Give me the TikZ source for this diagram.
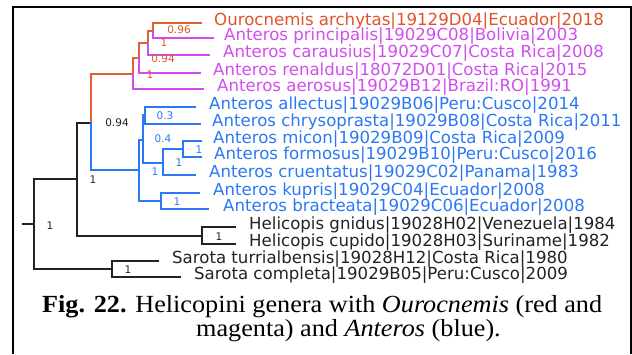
\documentclass[tikz,border=0pt]{standalone}
\usepackage{graphicx}
\usepackage{fontspec}
\setmainfont{Liberation Serif}
\newfontfamily\leaffont{DejaVu Sans}
\definecolor{ocl}{HTML}{E0602E}
\definecolor{oct}{HTML}{E0532A}
\definecolor{mag}{HTML}{D24CF0}
\definecolor{blu}{HTML}{2A78F5}
\definecolor{blk}{HTML}{222222}
\tikzset{
  br/.style={line width=1.2pt, line cap=rect},
  leaf/.style={anchor=mid west, inner sep=0pt, font=\leaffont\fontsize{16.6}{18}\selectfont},
  sup/.style={inner sep=0pt, font=\leaffont\fontsize{10.5}{12}\selectfont},
  captxt/.style={anchor=base west, inner sep=0pt, font=\fontsize{26.2}{28}\selectfont, text=black}
}
\begin{document}
\begin{tikzpicture}[x=1pt,y=-1pt]
\useasboundingbox (0,0) rectangle (632,354);
\draw[line width=2pt] (13,354) -- (13,7) -- (631,7) -- (631,354);

% internal nodes
\coordinate (r) at (23,224);
\coordinate (n1) at (34,224);
\coordinate (n2) at (77,179);
\coordinate (nS) at (112,269);
\coordinate (n3) at (91,123);
\coordinate (nH) at (202,236);
\coordinate (nO1) at (133,74);
\coordinate (nO2) at (139,58);
\coordinate (nO3) at (148,43);
\coordinate (nO4) at (153,31);
\coordinate (nA) at (139,170);
\coordinate (nB) at (143,140);
\coordinate (nAl) at (145,115);
\coordinate (nC) at (163,163);
\coordinate (nD) at (183,149);
\coordinate (nK) at (161,201);

% leaf line ends
\coordinate (e1) at (201,23);
\coordinate (e2) at (213,38);
\coordinate (e3) at (209,55);
\coordinate (e4) at (200,73);
\coordinate (e5) at (203,89);
\coordinate (e6) at (195,107);
\coordinate (e7) at (200,124);
\coordinate (e8) at (201,141);
\coordinate (e9) at (201,157);
\coordinate (e10) at (195,175);
\coordinate (e11) at (199,193);
\coordinate (e12) at (208,209);
\coordinate (e13) at (235,227);
\coordinate (e14) at (235,244);
\coordinate (e15) at (158,261);
\coordinate (e16) at (180,277);

% leaf labels
\node[leaf,text=oct] (t1) at (214,23) {Ourocnemis archytas|19129D04|Ecuador|2018};
\node[leaf,text=mag] (t2) at (224,38) {Anteros principalis|19029C08|Bolivia|2003};
\node[leaf,text=mag] (t3) at (223,55) {Anteros carausius|19029C07|Costa Rica|2008};
\node[leaf,text=mag] (t4) at (213,73) {Anteros renaldus|18072D01|Costa Rica|2015};
\node[leaf,text=mag] (t5) at (217,89) {Anteros aerosus|19029B12|Brazil:RO|1991};
\node[leaf,text=blu] (t6) at (209,107) {Anteros allectus|19029B06|Peru:Cusco|2014};
\node[leaf,text=blu] (t7) at (212,124) {Anteros chrysoprasta|19029B08|Costa Rica|2011};
\node[leaf,text=blu] (t8) at (213,141) {Anteros micon|19029B09|Costa Rica|2009};
\node[leaf,text=blu] (t9) at (214,157) {Anteros formosus|19029B10|Peru:Cusco|2016};
\node[leaf,text=blu] (t10) at (209,175) {Anteros cruentatus|19029C02|Panama|1983};
\node[leaf,text=blu] (t11) at (213,193) {Anteros kupris|19029C04|Ecuador|2008};
\node[leaf,text=blu] (t12) at (223,209) {Anteros bracteata|19029C06|Ecuador|2008};
\node[leaf,text=blk] (t13) at (249,227) {Helicopis gnidus|19028H02|Venezuela|1984};
\node[leaf,text=blk] (t14) at (249,244) {Helicopis cupido|19028H03|Suriname|1982};
\node[leaf,text=blk] (t15) at (172,261) {Sarota turrialbensis|19028H12|Costa Rica|1980};
\node[leaf,text=blk] (t16) at (194,277) {Sarota completa|19029B05|Peru:Cusco|2009};

% black branches
\draw[br,blk] (r) -- (n1);
\draw[br,blk] (n1 |- n2) -- (n1 |- nS);
\draw[br,blk] (n1 |- n2) -- (n2);
\draw[br,blk] (n1 |- nS) -- (nS);
\draw[br,blk] (n2 |- n3) -- (n2 |- nH);
\draw[br,blk] (n2 |- n3) -- (n3);
\draw[br,blk] (n2 |- nH) -- (nH);
\draw[br,blk] (nH |- e13) -- (nH |- e14);
\draw[br,blk] (nH |- e13) -- (e13);
\draw[br,blk] (nH |- e14) -- (e14);
\draw[br,blk] (nS |- e15) -- (nS |- e16);
\draw[br,blk] (nS |- e15) -- (e15);
\draw[br,blk] (nS |- e16) -- (e16);

% orange / magenta clade
\draw[br,ocl] (n3 |- nO1) -- (n3);
\draw[br,ocl] (n3 |- nO1) -- (nO1);
\draw[br,ocl] (nO1 |- nO2) -- (nO1);
\draw[br,mag] (nO1) -- (nO1 |- e5) -- (e5);
\draw[br,ocl] (nO1 |- nO2) -- (nO2);
\draw[br,ocl] (nO2 |- nO3) -- (nO2);
\draw[br,mag] (nO2) -- (nO2 |- e4) -- (e4);
\draw[br,ocl] (nO2 |- nO3) -- (nO3);
\draw[br,ocl] (nO3 |- nO4) -- (nO3);
\draw[br,mag] (nO3) -- (nO3 |- e3) -- (e3);
\draw[br,ocl] (nO3 |- nO4) -- (nO4);
\draw[br,ocl] (nO4 |- e1) -- (nO4);
\draw[br,ocl] (nO4 |- e1) -- (e1);
\draw[br,mag] (nO4) -- (nO4 |- e2) -- (e2);

% blue clade
\draw[br,blu] (n3) -- (n3 |- nA) -- (nA);
\draw[br,blu] (nA |- nB) -- (nA |- nK);
\draw[br,blu] (nA |- nB) -- (nB);
\draw[br,blu] (nA |- nK) -- (nK);
\draw[br,blu] (nB |- nAl) -- (nB |- nC);
\draw[br,blu] (nB |- nAl) -- (nAl);
\draw[br,blu] (nB |- nC) -- (nC);
\draw[br,blu] (nAl |- e6) -- (nAl |- e7);
\draw[br,blu] (nAl |- e6) -- (e6);
\draw[br,blu] (nAl |- e7) -- (e7);
\draw[br,blu] (nC |- nD) -- (nC |- e10);
\draw[br,blu] (nC |- nD) -- (nD);
\draw[br,blu] (nC |- e10) -- (e10);
\draw[br,blu] (nD |- e8) -- (nD |- e9);
\draw[br,blu] (nD |- e8) -- (e8);
\draw[br,blu] (nD |- e9) -- (e9);
\draw[br,blu] (nK |- e11) -- (nK |- e12);
\draw[br,blu] (nK |- e11) -- (e11);
\draw[br,blu] (nK |- e12) -- (e12);

% support values
\node[sup,text=oct] (s1) at (179,30) {0.96};
\node[sup,text=oct] (s2) at (164,43) {1};
\node[sup,text=oct] (s3) at (163,59) {0.94};
\node[sup,text=oct] (s4) at (150,75) {1};
\node[sup,text=blk] (s5) at (117,123) {0.94};
\node[sup,text=blu] (s6) at (165,116) {0.3};
\node[sup,text=blu] (s7) at (163,139) {0.4};
\node[sup,text=blu] (s8) at (199,150) {1};
\node[sup,text=blu] (s9) at (179,163) {1};
\node[sup,text=blu] (s10) at (155,172) {1};
\node[sup,text=blu] (s11) at (177,202) {1};
\node[sup,text=blk] (s12) at (93,180) {1};
\node[sup,text=blk] (s13) at (219,237) {1};
\node[sup,text=blk] (s14) at (50,226) {1};
\node[sup,text=blk] (s15) at (128,270) {1};

% caption
\node[captxt] (c1) at (42,312) {\scalebox{1}[0.94]{\textbf{Fig. 22.} Helicopini genera with \textit{Ourocnemis} (red and}};
\node[captxt] (c2) at (196,336) {\scalebox{1}[0.94]{magenta) and \textit{Anteros} (blue).}};
\end{tikzpicture}
\end{document}
